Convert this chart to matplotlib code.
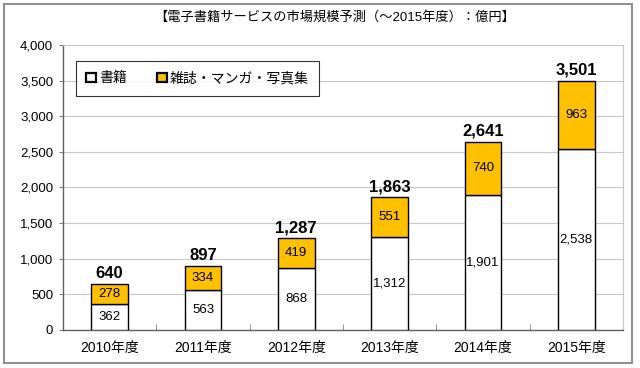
import matplotlib

matplotlib.use("Agg")
import matplotlib.pyplot as plt
import numpy as np
from matplotlib import patches

plt.rcParams["font.family"] = ["Liberation Sans", "Noto Sans CJK JP"]

TITLE = "【電子書籍サービスの市場規模予測（～2015年度）：億円】"

years = ["2010年度", "2011年度", "2012年度", "2013年度", "2014年度", "2015年度"]
books = [362, 563, 868, 1312, 1901, 2538]
magazines = [278, 334, 419, 551, 740, 963]
series_names = ["書籍", "雑誌・マンガ・写真集"]

YELLOW = "#FFC000"


def main() -> None:
    fig = plt.figure(figsize=(6.4, 3.68), dpi=100)
    ax = fig.add_axes([0.0984, 0.1033, 0.875, 0.7744])

    x = np.arange(len(years))
    books_arr = np.array(books)
    mags_arr = np.array(magazines)
    totals = books_arr + mags_arr

    width = 0.39
    b1 = ax.bar(x, books_arr, width, color="white", edgecolor="black",
                linewidth=1.0, label=series_names[0], zorder=3)
    b2 = ax.bar(x, mags_arr, width, bottom=books_arr, color=YELLOW,
                edgecolor="black", linewidth=1.0, label=series_names[1], zorder=3)

    for xi, b, m, t in zip(x, books_arr, mags_arr, totals):
        ax.text(xi, b / 2, f"{b:,}", ha="center", va="center", fontsize=9.5, zorder=4)
        ax.text(xi, b + m / 2, f"{m:,}", ha="center", va="center", fontsize=9.5, zorder=4)
        ax.text(xi, t + 45, f"{t:,}", ha="center", va="bottom", fontsize=12,
                fontweight="bold", zorder=4)

    ax.set_xlim(-0.5, len(years) - 0.5)
    ax.set_ylim(0, 4000)
    ax.set_yticks(np.arange(0, 4001, 500))
    ax.yaxis.set_major_formatter(plt.FuncFormatter(lambda v, _: f"{int(v):,}"))
    ax.set_xticks(x)
    ax.set_xticklabels(years)
    ax.set_xticks(np.arange(0.5, len(years) - 0.5, 1), minor=True)
    ax.tick_params(axis="x", which="major", length=0, labelsize=10, pad=8)
    ax.tick_params(axis="x", which="minor", direction="in", length=4, color="#808080")
    ax.tick_params(axis="y", which="major", length=3, color="#808080", labelsize=9.5, pad=4)

    ax.grid(axis="y", color="#c8c8c8", linewidth=0.8, zorder=0)
    ax.set_axisbelow(True)
    for side in ("left", "bottom"):
        ax.spines[side].set_color("#606060")
        ax.spines[side].set_linewidth(1.0)
    for side in ("top", "right"):
        ax.spines[side].set_color("#c8c8c8")
        ax.spines[side].set_linewidth(0.8)

    leg = ax.legend(handles=[b1, b2], ncol=2, loc="upper left",
                    bbox_to_anchor=(0.023, 0.944), fontsize=10,
                    frameon=True, fancybox=False, edgecolor="black",
                    handlelength=0.7, handleheight=0.7, handletextpad=0.2,
                    columnspacing=2.2, borderpad=0.75, borderaxespad=0)
    leg.get_frame().set_linewidth(0.8)
    leg.set_zorder(5)
    for h in leg.legend_handles:
        h.set_linewidth(1.6)

    fig.text(0.523, 0.953, TITLE, ha="center", va="center", fontsize=9.5)

    border = patches.Rectangle((0.007, 0.013), 0.981, 0.975, transform=fig.transFigure,
                               fill=False, edgecolor="#909090", linewidth=1.5)
    fig.patches.append(border)

    fig.savefig("out.png", dpi=100)


if __name__ == "__main__":
    main()
